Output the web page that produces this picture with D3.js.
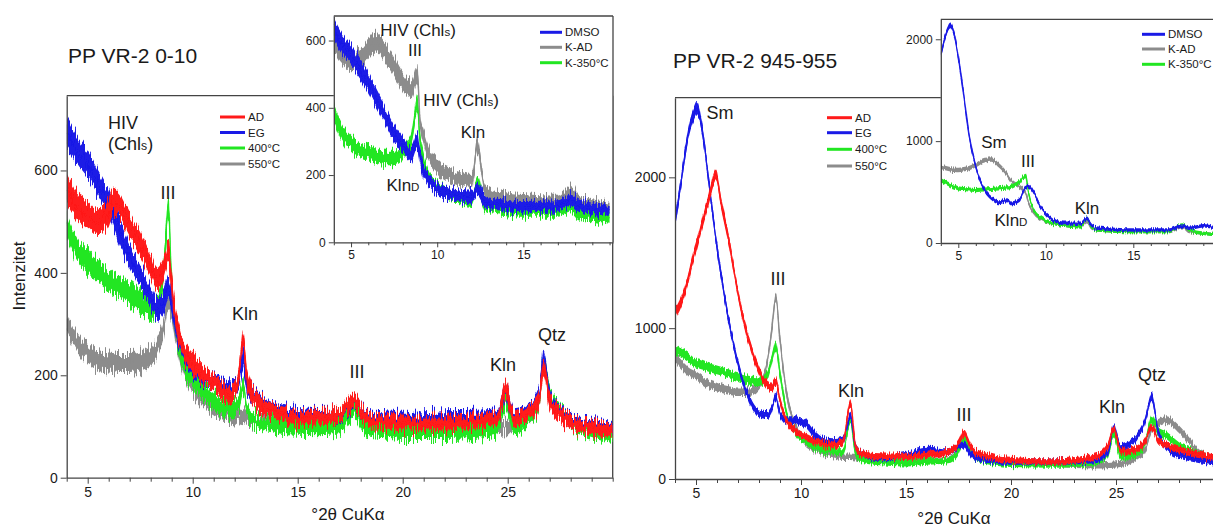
<!DOCTYPE html>
<html><head><meta charset="utf-8">
<script src="https://cdn.jsdelivr.net/npm/d3@7"></script>
<style>
body{margin:0;background:#fff}
svg{display:block}
text{font-family:"Liberation Sans",Arial,sans-serif;fill:#1a1a1a}
</style></head>
<body><svg id="c" width="1213" height="527"></svg>
<script>
// ---------------- DATA ----------------
const titleLeft = "PP VR-2 0-10";
const titleRight = "PP VR-2 945-955";
const xLabel = "°2θ CuKα";
const yLabel = "Intenzitet";
const mainXTicks = [5, 10, 15, 20, 25];
const insetXTicks = [5, 10, 15];
const leftMainYTicks = [0, 200, 400, 600];
const leftInsetYTicks = [0, 200, 400, 600];
const rightMainYTicks = [0, 1000, 2000];
const rightInsetYTicks = [0, 1000, 2000];
const mainLegend = ["AD", "EG", "400°C", "550°C"];
const insetLegend = ["DMSO", "K-AD", "K-350°C"];

// Left main (PP VR-2 0-10)
const lmX   = [4,4.5,5,5.5,6,6.2,6.5,7,7.5,8,8.3,8.6,8.85,9.0,9.2,9.5,10,11,11.8,12.2,12.4,12.6,13,14,15,16,17,17.7,18.2,19,20,22,24,24.5,24.9,25.3,26,26.5,26.7,27,27.5,28,29,30];
const lmAD  = [565,530,515,500,518,540,530,492,458,414,388,406,440,373,308,256,224,185,160,200,268,190,152,126,116,118,124,150,120,108,106,106,112,116,172,114,126,152,215,152,122,108,98,92];
const lmEG  = [675,640,612,575,536,515,480,432,393,354,330,342,372,342,295,250,217,186,172,190,232,180,155,130,122,120,122,148,122,114,113,116,118,120,168,118,130,160,232,160,126,112,102,96];
const lm400 = [490,445,422,403,386,380,373,360,344,328,332,400,525,373,295,230,191,150,132,145,180,130,112,100,97,96,100,130,98,92,88,88,92,96,150,96,115,150,225,165,130,108,90,80];
const lm550 = [305,263,243,230,227,226,224,224,227,237,256,290,345,328,280,225,180,138,122,118,116,115,112,110,110,110,115,135,112,106,104,102,100,98,100,100,115,150,225,160,125,108,96,90];

// Left inset
const liX    = [4,4.5,5,5.5,6,6.4,7,7.5,8,8.3,8.5,8.85,9.0,9.2,9.5,10,11,12,12.35,12.7,13,14,15,17,17.8,18.2,19,20];
const liDMSO = [635,589,559,519,475,435,375,325,290,268,262,302,256,216,186,161,141,136,156,126,116,110,106,108,126,111,101,92];
const liKAD  = [600,560,540,545,574,594,564,524,480,462,455,500,365,315,266,226,196,181,286,166,146,131,126,121,151,121,111,101];
const liK350 = [385,325,295,276,266,258,251,251,266,285,305,410,305,246,196,166,136,126,176,118,106,97,92,92,106,87,77,67];

// Right main (PP VR-2 945-955)
const rmX   = [4,4.3,4.6,4.9,5.05,5.3,5.6,5.95,6.2,6.5,7,7.5,8,8.4,8.6,8.8,9.0,9.3,9.7,10.2,10.6,11,11.5,12,12.35,12.6,13,14,15,16,17,17.5,17.75,18.2,19,20,22,24,24.6,24.9,25.2,25.5,26,26.4,26.7,27,27.4,28,28.5,29,30];
const rmAD  = [1097,1180,1310,1490,1560,1700,1850,2013,1826,1627,1230,921,722,623,611,645,523,391,324,280,255,236,225,247,501,214,159,148,148,159,181,236,302,192,148,126,115,148,214,335,192,185,200,258,346,260,225,192,175,159,137];
const rmEG  = [1700,1980,2267,2420,2460,2311,1980,1590,1350,1097,766,545,435,424,460,545,435,391,391,369,302,258,247,258,413,214,159,137,159,192,181,215,225,148,126,115,115,126,170,346,214,225,280,390,545,324,210,159,140,126,104];
const rm400 = [854,835,810,775,766,755,740,725,715,700,678,656,645,690,788,887,700,450,320,250,215,192,185,181,391,170,126,110,104,115,125,180,260,150,115,100,95,110,160,300,150,150,170,250,400,320,290,220,190,160,130];
const rm550 = [810,760,715,690,680,655,630,612,600,589,578,578,620,780,980,1207,920,580,370,240,205,181,160,148,148,145,137,130,126,120,130,190,270,180,135,115,100,90,92,95,100,110,150,200,330,370,390,330,250,170,130];

// Right inset
const riX    = [4,4.3,4.55,4.8,5,5.3,5.6,6,6.5,6.9,7.3,7.8,8,8.5,8.85,9.0,9.3,9.7,10.2,11,12,12.35,12.6,13,15,17,17.8,18.2,19,20];
const riDMSO = [1850,2055,2137,2023,1827,1467,1075,748,520,440,400,420,389,422,552,560,503,356,258,193,193,242,176,144,127,127,167,144,170,127];
const riKAD  = [748,735,725,718,716,725,735,765,814,820,765,670,618,552,495,400,300,240,205,176,160,209,150,127,111,111,160,111,95,78];
const riK350 = [618,590,569,550,536,530,525,520,525,530,536,545,552,601,667,503,330,250,209,176,160,242,160,127,111,111,176,127,95,78];

// ---------------- STYLE ----------------
const C = {AD:"#ff1a1a", EG:"#1a1ae6", G:"#22e622", GR:"#8c8c8c"};
const axisColor = "#444";
const svg = d3.select("#c");
const fmt = d3.format("d");

// texture filters (visual jitter of the trace bands, purely a rendering style)
const defs = svg.append("defs");
function jitterFilter(id, scale, freq){
  const f = defs.append("filter").attr("id",id).attr("x","-2%").attr("y","-30%")
    .attr("width","104%").attr("height","160%");
  f.append("feTurbulence").attr("type","fractalNoise").attr("baseFrequency",freq)
    .attr("numOctaves",2).attr("seed",4).attr("result","t");
  const ct = f.append("feComponentTransfer").attr("in","t").attr("result","t2");
  ct.append("feFuncR").attr("type","linear").attr("slope",0).attr("intercept",0.5);
  ct.append("feFuncG").attr("type","linear").attr("slope",1.8).attr("intercept",-0.4);
  ct.append("feFuncA").attr("type","linear").attr("slope",0).attr("intercept",1);
  f.append("feDisplacementMap").attr("in","SourceGraphic").attr("in2","t2")
    .attr("scale",scale).attr("xChannelSelector","R").attr("yChannelSelector","G");
}
jitterFilter("jL", 14, "0.9 0.03");
jitterFilter("jLi", 10, "0.9 0.03");
jitterFilter("jR", 5, "0.9 0.03");
jitterFilter("jRi", 3, "0.9 0.03");

function styleAxis(s, o){
  s.select(".domain").attr("stroke",axisColor).attr("stroke-width",1.3);
  s.selectAll("line").attr("stroke",axisColor);
  s.selectAll("text").attr("font-size",o.fs).attr("fill","#222")
   .style("font-family","'Liberation Sans',Arial,sans-serif");
}
function mkAxes(g, xs, ys, xTicks, yTicks, o){
  const [xa, xb] = xs.domain();
  const minor = d3.range(Math.ceil(xa), Math.floor(xb)+1).filter(v => !xTicks.includes(v));
  const yb = ys.range()[0];
  g.append("g").attr("transform",`translate(0,${yb})`)
    .call(d3.axisBottom(xs).tickValues(minor).tickSize(o.minor).tickSizeOuter(0).tickFormat(""))
    .call(s=>{s.select(".domain").remove(); s.selectAll("line").attr("stroke",axisColor);});
  g.append("g").attr("transform",`translate(0,${yb})`)
    .call(d3.axisBottom(xs).tickValues(xTicks).tickSize(o.major).tickSizeOuter(0).tickPadding(o.pad).tickFormat(fmt))
    .call(s=>styleAxis(s,o));
  const xl = xs.range()[0];
  g.append("g").attr("transform",`translate(${xl},0)`)
    .call(d3.axisLeft(ys).tickValues(yTicks).tickSize(o.major).tickSizeOuter(0).tickPadding(o.pad).tickFormat(fmt))
    .call(s=>styleAxis(s,o));
}

let clipId = 0;
function drawSeries(g, xs, ys, xArr, series, band, filt){
  const id = "clip"+(clipId++);
  const [x0,x1] = xs.range(), [yb,yt] = ys.range();
  g.append("clipPath").attr("id",id).append("rect")
    .attr("x",x0).attr("y",yt).attr("width",x1-x0).attr("height",yb-yt);
  const cg = g.append("g").attr("clip-path",`url(#${id})`);
  const hw = v => band.a + band.b*Math.sqrt(Math.max(v,0));
  series.forEach(s=>{
    const pts = xArr.map((x,i)=>[x, s.vals[i]]);
    const area = d3.area()
      .x(d=>xs(d[0]))
      .y0(d=>ys(d[1])+hw(d[1]))
      .y1(d=>ys(d[1])-hw(d[1]))
      .curve(d3.curveMonotoneX);
    const sg = cg.append("g").attr("filter",`url(#${filt})`);
    sg.append("path").attr("d",area(pts)).attr("fill",s.color);
    const line = d3.line().x(d=>xs(d[0])).y(d=>ys(d[1])).curve(d3.curveMonotoneX);
    sg.append("path").attr("d",line(pts)).attr("fill","none").attr("stroke",s.color).attr("stroke-width",1.5);
  });
}

function legend(g, items, colors, lx, ys, fs){
  items.forEach((t,i)=>{
    g.append("line").attr("x1",lx[0]).attr("x2",lx[1]).attr("y1",ys[i]).attr("y2",ys[i])
      .attr("stroke",colors[i]).attr("stroke-width",3);
    g.append("text").attr("x",lx[1]+3).attr("y",ys[i]).attr("dy","0.36em")
      .attr("font-size",fs).text(t);
  });
}
function label(g, x, y, t, fs, anchor){
  g.append("text").attr("x",x).attr("y",y).attr("font-size",fs)
    .attr("text-anchor",anchor||"middle").text(t);
}
function labelSub(g, x, y, main, small, tail, fs, anchor){
  const t = g.append("text").attr("x",x).attr("y",y).attr("font-size",fs)
    .attr("text-anchor",anchor||"middle");
  t.append("tspan").text(main);
  t.append("tspan").attr("font-size",fs*0.68).text(small);
  if (tail) t.append("tspan").text(tail);
}

// ---------------- LEFT PANEL ----------------
{
  const g = svg.append("g");
  const xs = d3.scaleLinear().domain([4,30]).range([66.7,612.7]);
  const ys = d3.scaleLinear().domain([0,746]).range([477.7,95.7]);
  g.append("line").attr("x1",66.7).attr("x2",612.7).attr("y1",95.7).attr("y2",95.7).attr("stroke",axisColor).attr("stroke-width",1.3);
  g.append("line").attr("x1",612.7).attr("x2",612.7).attr("y1",95.7).attr("y2",477.7).attr("stroke",axisColor).attr("stroke-width",1.3);
  drawSeries(g, xs, ys, lmX, [
    {vals:lm550, color:C.GR},{vals:lm400, color:C.G},{vals:lmEG, color:C.EG},{vals:lmAD, color:C.AD}
  ], {a:2.2, b:0.45}, "jL");
  mkAxes(g, xs, ys, mainXTicks, leftMainYTicks, {major:6, minor:4, pad:3, fs:14});
  label(g, 68, 63, titleLeft, 21, "start");
  g.append("text").attr("transform","translate(25,276) rotate(-90)").attr("text-anchor","middle")
    .attr("font-size",17).text(yLabel);
  label(g, 348, 520, xLabel, 17);
  legend(g, mainLegend, [C.AD,C.EG,C.G,C.GR], [220,245], [117,132.5,148,164], 11.5);
  label(g, 108, 129, "HIV", 18, "start");
  labelSub(g, 108, 150, "(Chl", "s", ")", 18, "start");
  label(g, 168, 199, "III", 18);
  label(g, 245, 320, "Kln", 18);
  label(g, 357, 377.5, "III", 18);
  label(g, 503, 371, "Kln", 18);
  label(g, 552, 341, "Qtz", 18);

  const ig = svg.append("g");
  const ixs = d3.scaleLinear().domain([4,20.2]).range([333.8,613]);
  const iys = d3.scaleLinear().domain([0,673]).range([242.3,16]);
  ig.append("rect").attr("x",333.8).attr("y",16).attr("width",613-333.8).attr("height",242.3-16).attr("fill","#fff");
  ig.append("line").attr("x1",333.8).attr("x2",613).attr("y1",16).attr("y2",16).attr("stroke",axisColor).attr("stroke-width",1.3);
  ig.append("line").attr("x1",613).attr("x2",613).attr("y1",16).attr("y2",242.3).attr("stroke",axisColor).attr("stroke-width",1.3);
  drawSeries(ig, ixs, iys, liX, [
    {vals:liK350, color:C.G},{vals:liKAD, color:C.GR},{vals:liDMSO, color:C.EG}
  ], {a:2.5, b:0.3}, "jLi");
  mkAxes(ig, ixs, iys, insetXTicks, leftInsetYTicks, {major:5, minor:3, pad:3, fs:12});
  legend(ig, insetLegend, [C.EG,C.GR,C.G], [540,562], [32.3,47.3,62.7], 11.5);
  labelSub(ig, 418, 36, "HIV (Chl", "s", ")", 17);
  label(ig, 415, 56, "III", 17);
  labelSub(ig, 461, 106, "HIV (Chl", "s", ")", 17);
  label(ig, 473, 137.5, "Kln", 17);
  labelSub(ig, 403, 191, "Kln", "D", "", 17);
}

// ---------------- RIGHT PANEL ----------------
{
  const g = svg.append("g");
  const xs = d3.scaleLinear().domain([4,30]).range([675,1221]);
  const ys = d3.scaleLinear().domain([0,2528]).range([479,97.7]);
  g.append("line").attr("x1",675).attr("x2",1221).attr("y1",97.7).attr("y2",97.7).attr("stroke",axisColor).attr("stroke-width",1.3);
  drawSeries(g, xs, ys, rmX, [
    {vals:rm550, color:C.GR},{vals:rm400, color:C.G},{vals:rmEG, color:C.EG},{vals:rmAD, color:C.AD}
  ], {a:2.3, b:0.08}, "jR");
  mkAxes(g, xs, ys, mainXTicks, rightMainYTicks, {major:6, minor:4, pad:3, fs:14});
  label(g, 673, 68, titleRight, 21, "start");
  label(g, 954, 524, xLabel, 17);
  legend(g, mainLegend, [C.AD,C.EG,C.G,C.GR], [827,852], [117.7,132.7,149.3,166], 11.5);
  label(g, 720, 119, "Sm", 18);
  label(g, 778, 285, "III", 18);
  label(g, 851, 397, "Kln", 18);
  label(g, 964, 421, "III", 18);
  label(g, 1112, 412.5, "Kln", 18);
  label(g, 1152, 381, "Qtz", 18);

  const ig = svg.append("g");
  const ixs = d3.scaleLinear().domain([4,20]).range([940.8,1220.8]);
  const iys = d3.scaleLinear().domain([0,2196]).range([243,19.3]);
  ig.append("rect").attr("x",940.8).attr("y",19.3).attr("width",280).attr("height",243-19.3).attr("fill","#fff");
  ig.append("line").attr("x1",940.8).attr("x2",1221).attr("y1",19.3).attr("y2",19.3).attr("stroke",axisColor).attr("stroke-width",1.3);
  drawSeries(ig, ixs, iys, riX, [
    {vals:riKAD, color:C.GR},{vals:riK350, color:C.G},{vals:riDMSO, color:C.EG}
  ], {a:1.3, b:0.035}, "jRi");
  mkAxes(ig, ixs, iys, insetXTicks, rightInsetYTicks, {major:5, minor:3, pad:3, fs:12});
  legend(ig, insetLegend, [C.EG,C.GR,C.G], [1142,1165], [34.3,49,64.3], 11.5);
  label(ig, 994, 147.5, "Sm", 17);
  label(ig, 1028, 166.5, "III", 17);
  label(ig, 1087, 214, "Kln", 17);
  labelSub(ig, 1011, 226, "Kln", "D", "", 17);
}
</script></body></html>
